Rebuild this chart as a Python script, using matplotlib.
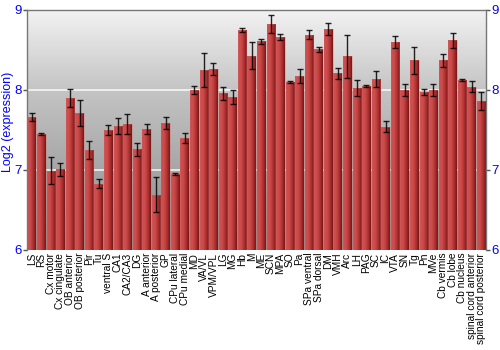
import numpy as np
import matplotlib
matplotlib.use("Agg")
import matplotlib.pyplot as plt
from matplotlib.colors import LinearSegmentedColormap

categories = ["LS", "RS", "Cx motor", "Cx cingulate", "OB anterior", "OB posterior",
              "Pir", "Tu", "ventral S", "CA1", "CA2/CA3", "DG", "A anterior",
              "A posterior", "GP", "CPu lateral", "CPu medial", "MD", "VA/VL",
              "VPM/VPL", "LG", "MG", "Hb", "M", "ME", "SCN", "MPA", "SO", "Pa",
              "SPa ventral", "SPa dorsal", "DM", "VMH", "Arc", "LH", "PAG", "SC",
              "IC", "VTA", "SN", "Tg", "Pn", "MVe", "Cb vermis", "Cb lobe",
              "Cb nucleus", "spinal cord anterior", "spinal cord posterior"]
values = [7.66, 7.45, 6.99, 7.01, 7.90, 7.71, 7.25, 6.83, 7.50, 7.55, 7.575, 7.26,
          7.51, 6.69, 7.59, 6.95, 7.40, 8.00, 8.25, 8.26, 7.96, 7.91, 8.75, 8.43,
          8.61, 8.825, 8.66, 8.10, 8.175, 8.69, 8.51, 8.76, 8.21, 8.42, 8.03, 8.05,
          8.14, 7.54, 8.60, 8.00, 8.37, 7.975, 8.00, 8.37, 8.62, 8.125, 8.04, 7.86]
errors = [0.05, 0.01, 0.17, 0.08, 0.11, 0.165, 0.116, 0.06, 0.06, 0.10, 0.125, 0.08,
          0.06, 0.22, 0.075, 0.01, 0.06, 0.05, 0.21, 0.075, 0.08, 0.085, 0.02, 0.17,
          0.03, 0.11, 0.04, 0.01, 0.09, 0.055, 0.03, 0.077, 0.07, 0.27, 0.10, 0.01,
          0.10, 0.07, 0.08, 0.08, 0.17, 0.04, 0.08, 0.08, 0.09, 0.01, 0.07, 0.11]
yticks = [6, 7, 8, 9]

plt.rcParams['font.family'] = ['Liberation Sans', 'DejaVu Sans']

fig = plt.figure(figsize=(5, 3.5), dpi=100)
ax = fig.add_axes([27 / 500, 1 - 250 / 350, 459 / 500, 240 / 350])

n = len(categories)
x = np.arange(n)
ax.set_xlim(-0.5, n - 0.5)
ax.set_ylim(6, 9)

# background gradient
bg = np.linspace(0, 1, 256).reshape(-1, 1)
bg_cmap = LinearSegmentedColormap.from_list("bg", ["#8a8a8a", "#a6a6a6", "#c4c4c4", "#f2f2f2"])
ax.imshow(bg, extent=(-0.5, n - 0.5, 6, 9), origin="lower", aspect="auto",
          cmap=bg_cmap, zorder=0)

# grid lines
for yv in [7, 8]:
    ax.axhline(yv, color="white", lw=1.2, alpha=0.85, zorder=1)

bars = ax.bar(x, np.array(values) - 6, bottom=6, width=0.9, color="none",
              edgecolor="none", zorder=2)

bar_cmap = LinearSegmentedColormap.from_list(
    "bar", ["#c84848", "#d05050", "#c04040", "#a52c2c", "#761616"])
grad = np.linspace(0, 1, 64).reshape(1, -1)
for b in bars:
    x0, y0 = b.get_x(), b.get_y()
    w, h = b.get_width(), b.get_height()
    im = ax.imshow(grad, extent=(x0, x0 + w, y0, y0 + h), aspect="auto",
                   cmap=bar_cmap, zorder=2)
    im.set_clip_path(b)
    ax.add_patch(plt.Rectangle((x0, y0), w, h, fill=False, edgecolor="#d87070",
                               lw=0.4, alpha=0.6, zorder=2.5))

ax.errorbar(x, values, yerr=errors, fmt="none", ecolor="black", elinewidth=1,
            capsize=2.2, capthick=1, alpha=0.85, zorder=3)

ax.set_xticks(x)
ax.set_xticklabels(categories, rotation=90, fontsize=7.3)
ax.tick_params(axis="x", length=0, pad=2)

ax.set_yticks(yticks)
ax.tick_params(axis="y", which="both", labelcolor="blue", labelsize=9.5,
               color="#555555", length=3, width=1, direction="out",
               left=True, right=True, labelleft=True, labelright=True, pad=1)
ax.set_ylabel("Log2 (expression)", color="blue", fontsize=9)
ax.yaxis.set_label_coords(-0.029, 0.533)

for s in ["left", "right", "top"]:
    ax.spines[s].set_color("#777777")
    ax.spines[s].set_linewidth(1)
ax.spines["bottom"].set_visible(False)

fig.savefig("out.png", dpi=100)
